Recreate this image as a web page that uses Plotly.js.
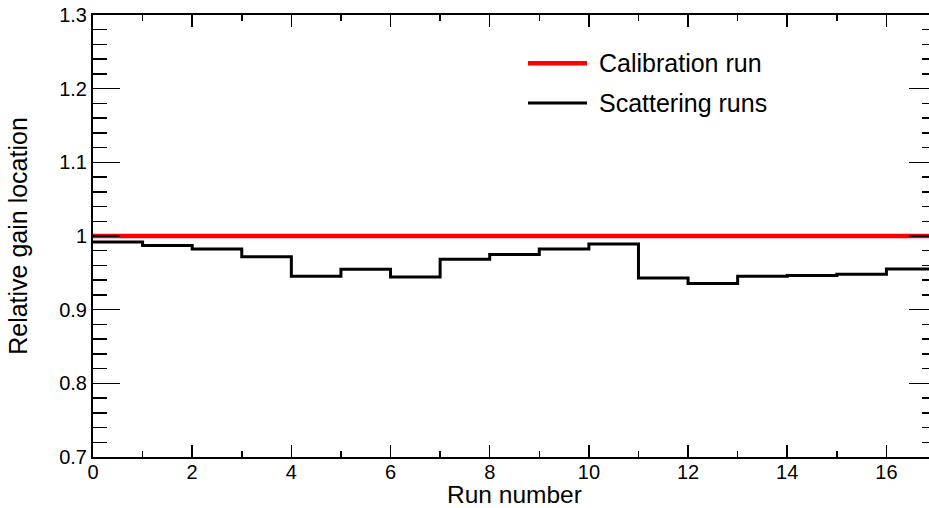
<!DOCTYPE html>
<html>
<head>
<meta charset="utf-8">
<script src="https://cdn.plot.ly/plotly-3.0.1.min.js"></script>
<style>
html, body { margin: 0; padding: 0; overflow: hidden; background: #fff; }
#chart { width: 940px; height: 508px; }
</style>
</head>
<body>
<div id="chart"></div>
<script>
// Data
const runEdges = [0, 1, 2, 3, 4, 5, 6, 7, 8, 9, 10, 11, 12, 13, 14, 15, 16, 17];
const scatteringGain = [0.992, 0.987, 0.9825, 0.972, 0.9455, 0.955, 0.9445, 0.9685, 0.975, 0.9825, 0.989, 0.943, 0.9355, 0.9455, 0.9463, 0.948, 0.9553];
const calibrationGain = 1.0;
const xRange = [0, 17];
const yRange = [0.7, 1.3];
const legendLabels = ["Calibration run", "Scattering runs"];
const xTitle = "Run number";
const yTitle = "Relative gain location";

const FONT = "Liberation Sans, Arial, Helvetica, sans-serif";

// step histogram: repeat the last value at the right edge
const stepY = scatteringGain.concat([scatteringGain[scatteringGain.length - 1]]);

const traces = [
  {
    x: runEdges, y: stepY, type: "scatter", mode: "lines",
    line: { color: "#000000", width: 3, shape: "hv" },
    showlegend: false, hoverinfo: "skip"
  },
  {
    x: [xRange[0], xRange[1]], y: [calibrationGain, calibrationGain],
    type: "scatter", mode: "lines",
    line: { color: "#ff0000", width: 4.5 },
    showlegend: false, hoverinfo: "skip"
  }
];

const axisCommon = {
  showline: true, linecolor: "#000", linewidth: 2, mirror: "allticks",
  ticks: "inside", tickcolor: "#000", tickwidth: 1.5,
  showgrid: false, zeroline: false,
  tickfont: { family: FONT, size: 20, color: "#000" },
  fixedrange: true
};

const layout = {
  width: 940, height: 508,
  margin: { l: 93, r: 4, t: 15, b: 51 },
  paper_bgcolor: "#fff", plot_bgcolor: "#fff",
  showlegend: false,
  xaxis: Object.assign({}, axisCommon, {
    range: xRange, dtick: 2, tick0: 0, ticklen: 12, ticklabelstandoff: -4,
    minor: { dtick: 1, ticklen: 6, ticks: "inside", tickcolor: "#000", tickwidth: 1.5 }
  }),
  yaxis: Object.assign({}, axisCommon, {
    range: yRange, dtick: 0.1, tick0: 0.7, ticklen: 27,
    minor: { dtick: 0.02, ticklen: 14, ticks: "inside", tickcolor: "#000", tickwidth: 1.5 },
    title: { text: yTitle, font: { family: FONT, size: 25, color: "#000" }, standoff: 24 }
  }),
  shapes: [
    { type: "line", xref: "paper", yref: "paper", x0: 0.516, x1: 0.586, y0: 0.891, y1: 0.891,
      line: { color: "#ff0000", width: 4.5 } },
    { type: "line", xref: "paper", yref: "paper", x0: 0.516, x1: 0.586, y0: 0.801, y1: 0.801,
      line: { color: "#000000", width: 3 } }
  ],
  annotations: [
    { xref: "paper", yref: "paper", x: 0.598, y: 0.891, xanchor: "left", yanchor: "middle",
      text: legendLabels[0], showarrow: false, font: { family: FONT, size: 25, color: "#000" } },
    { xref: "paper", yref: "paper", x: 0.598, y: 0.801, xanchor: "left", yanchor: "middle",
      text: legendLabels[1], showarrow: false, font: { family: FONT, size: 25, color: "#000" } },
    { xref: "paper", yref: "paper", x: 0.5, y: 0, yshift: -37, xanchor: "center", yanchor: "middle",
      text: xTitle, showarrow: false, font: { family: FONT, size: 24.5, color: "#000" } }
  ]
};

Plotly.newPlot("chart", traces, layout, { staticPlot: true, displayModeBar: false });
</script>
</body>
</html>
